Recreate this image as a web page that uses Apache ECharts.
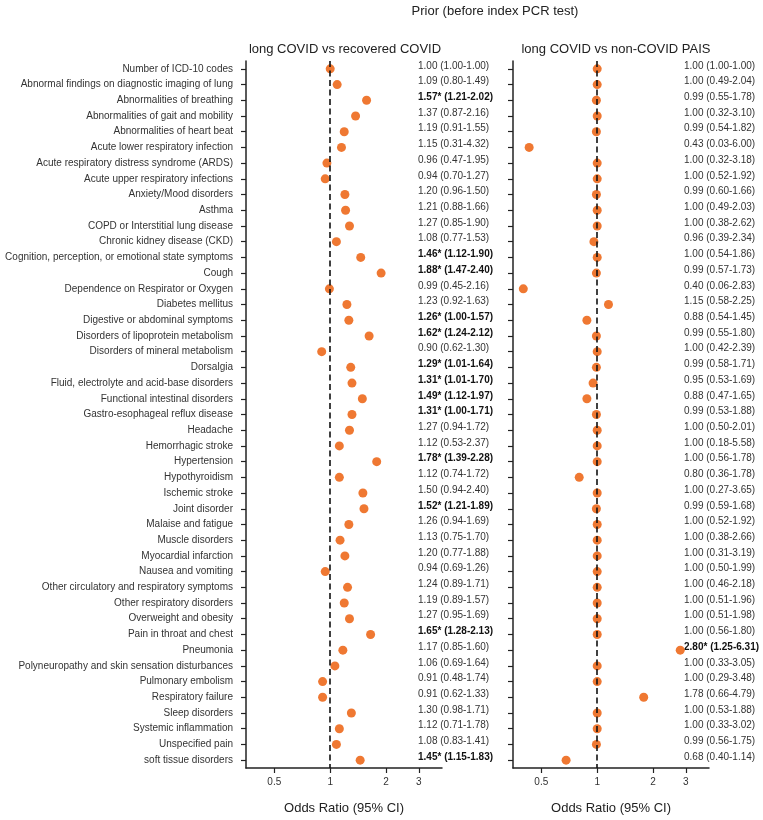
<!DOCTYPE html>
<html>
<head>
<meta charset="utf-8">
<script src="https://cdn.jsdelivr.net/npm/echarts@6/dist/echarts.min.js"></script>
<style>
  html, body { margin: 0; padding: 0; background: #fff; }
  #main { width: 763px; height: 820px; }
</style>
</head>
<body>
<div id="main"></div>
<script>
// conditions, top to bottom
var conditions = [
  'Number of ICD-10 codes',
  'Abnormal findings on diagnostic imaging of lung',
  'Abnormalities of breathing',
  'Abnormalities of gait and mobility',
  'Abnormalities of heart beat',
  'Acute lower respiratory infection',
  'Acute respiratory distress syndrome (ARDS)',
  'Acute upper respiratory infections',
  'Anxiety/Mood disorders',
  'Asthma',
  'COPD or Interstitial lung disease',
  'Chronic kidney disease (CKD)',
  'Cognition, perception, or emotional state symptoms',
  'Cough',
  'Dependence on Respirator or Oxygen',
  'Diabetes mellitus',
  'Digestive or abdominal symptoms',
  'Disorders of lipoprotein metabolism',
  'Disorders of mineral metabolism',
  'Dorsalgia',
  'Fluid, electrolyte and acid-base disorders',
  'Functional intestinal disorders',
  'Gastro-esophageal reflux disease',
  'Headache',
  'Hemorrhagic stroke',
  'Hypertension',
  'Hypothyroidism',
  'Ischemic stroke',
  'Joint disorder',
  'Malaise and fatigue',
  'Muscle disorders',
  'Myocardial infarction',
  'Nausea and vomiting',
  'Other circulatory and respiratory symptoms',
  'Other respiratory disorders',
  'Overweight and obesity',
  'Pain in throat and chest',
  'Pneumonia',
  'Polyneuropathy and skin sensation disturbances',
  'Pulmonary embolism',
  'Respiratory failure',
  'Sleep disorders',
  'Systemic inflammation',
  'Unspecified pain',
  'soft tissue disorders'
];

// long COVID vs recovered COVID
var orRecovered = [1.00, 1.09, 1.57, 1.37, 1.19, 1.15, 0.96, 0.94, 1.20, 1.21, 1.27, 1.08, 1.46, 1.88, 0.99,
  1.23, 1.26, 1.62, 0.90, 1.29, 1.31, 1.49, 1.31, 1.27, 1.12, 1.78, 1.12, 1.50, 1.52, 1.26,
  1.13, 1.20, 0.94, 1.24, 1.19, 1.27, 1.65, 1.17, 1.06, 0.91, 0.91, 1.30, 1.12, 1.08, 1.45];
var loRecovered = [1.00, 0.80, 1.21, 0.87, 0.91, 0.31, 0.47, 0.70, 0.96, 0.88, 0.85, 0.77, 1.12, 1.47, 0.45,
  0.92, 1.00, 1.24, 0.62, 1.01, 1.01, 1.12, 1.00, 0.94, 0.53, 1.39, 0.74, 0.94, 1.21, 0.94,
  0.75, 0.77, 0.69, 0.89, 0.89, 0.95, 1.28, 0.85, 0.69, 0.48, 0.62, 0.98, 0.71, 0.83, 1.15];
var hiRecovered = [1.00, 1.49, 2.02, 2.16, 1.55, 4.32, 1.95, 1.27, 1.50, 1.66, 1.90, 1.53, 1.90, 2.40, 2.16,
  1.63, 1.57, 2.12, 1.30, 1.64, 1.70, 1.97, 1.71, 1.72, 2.37, 2.28, 1.72, 2.40, 1.89, 1.69,
  1.70, 1.88, 1.26, 1.71, 1.57, 1.69, 2.13, 1.60, 1.64, 1.74, 1.33, 1.71, 1.78, 1.41, 1.83];
var sigRecovered = [0, 0, 1, 0, 0, 0, 0, 0, 0, 0, 0, 0, 1, 1, 0,
  0, 1, 1, 0, 1, 1, 1, 1, 0, 0, 1, 0, 0, 1, 0,
  0, 0, 0, 0, 0, 0, 1, 0, 0, 0, 0, 0, 0, 0, 1];

// long COVID vs non-COVID PAIS
var orPais = [1.00, 1.00, 0.99, 1.00, 0.99, 0.43, 1.00, 1.00, 0.99, 1.00, 1.00, 0.96, 1.00, 0.99, 0.40,
  1.15, 0.88, 0.99, 1.00, 0.99, 0.95, 0.88, 0.99, 1.00, 1.00, 1.00, 0.80, 1.00, 0.99, 1.00,
  1.00, 1.00, 1.00, 1.00, 1.00, 1.00, 1.00, 2.80, 1.00, 1.00, 1.78, 1.00, 1.00, 0.99, 0.68];
var loPais = [1.00, 0.49, 0.55, 0.32, 0.54, 0.03, 0.32, 0.52, 0.60, 0.49, 0.38, 0.39, 0.54, 0.57, 0.06,
  0.58, 0.54, 0.55, 0.42, 0.58, 0.53, 0.47, 0.53, 0.50, 0.18, 0.56, 0.36, 0.27, 0.59, 0.52,
  0.38, 0.31, 0.50, 0.46, 0.51, 0.51, 0.56, 1.25, 0.33, 0.29, 0.66, 0.53, 0.33, 0.56, 0.40];
var hiPais = [1.00, 2.04, 1.78, 3.10, 1.82, 6.00, 3.18, 1.92, 1.66, 2.03, 2.62, 2.34, 1.86, 1.73, 2.83,
  2.25, 1.45, 1.80, 2.39, 1.71, 1.69, 1.65, 1.88, 2.01, 5.58, 1.78, 1.78, 3.65, 1.68, 1.92,
  2.66, 3.19, 1.99, 2.18, 1.96, 1.98, 1.80, 6.31, 3.05, 3.48, 4.79, 1.88, 3.02, 1.75, 1.14];
var sigPais = [0, 0, 0, 0, 0, 0, 0, 0, 0, 0, 0, 0, 0, 0, 0,
  0, 0, 0, 0, 0, 0, 0, 0, 0, 0, 0, 0, 0, 0, 0,
  0, 0, 0, 0, 0, 0, 0, 1, 0, 0, 0, 0, 0, 0, 0];

var xTicks = [0.5, 1, 2, 3];
var xMin = 0.352, xMax = 4;

var FONT = "'Liberation Sans', Arial, sans-serif";
var INK = '#222';
var DOT = '#EF7832';

function ciText(or, lo, hi, sig, i) {
  var t = or[i].toFixed(2) + (sig[i] ? '*' : '') + ' (' + lo[i].toFixed(2) + '-' + hi[i].toFixed(2) + ')';
  return sig[i] ? '{b|' + t + '}' : '{n|' + t + '}';
}

function xAxisFor(gridIndex) {
  return {
    type: 'log', logBase: 2, gridIndex: gridIndex, min: xMin, max: xMax,
    name: 'Odds Ratio (95% CI)', nameLocation: 'middle', nameGap: 34,
    nameTextStyle: { fontFamily: FONT, fontSize: 13, color: INK },
    axisLine: { show: true, lineStyle: { color: INK, width: 1.5 } },
    axisTick: { show: true, length: 5, lineStyle: { color: INK, width: 1.2 }, customValues: xTicks },
    axisLabel: {
      customValues: xTicks, margin: 9, fontFamily: FONT, fontSize: 10, color: '#333',
      formatter: function (v) { return String(+v.toFixed(2)); }
    },
    splitLine: { show: false }, minorTick: { show: false }
  };
}

function textAxis(gridIndex, or, lo, hi, sig, margin) {
  return {
    type: 'category', gridIndex: gridIndex, data: conditions, inverse: true, position: 'right',
    axisLine: { show: false }, axisTick: { show: false },
    axisLabel: {
      margin: margin, align: 'left', interval: 0, padding: [0, 0, 6, 0],
      formatter: function (v, i) { return ciText(or, lo, hi, sig, i); },
      rich: {
        n: { fontFamily: FONT, fontSize: 10, color: '#333' },
        b: { fontFamily: FONT, fontSize: 10, color: '#111', fontWeight: 'bold' }
      }
    }
  };
}

function pts(or) {
  return or.map(function (v, i) { return [v, i]; });
}

var myChart = echarts.init(document.getElementById('main'), null, { renderer: 'canvas' });

var option = {
  backgroundColor: '#fff',
  animation: false,
  title: [
    { text: 'Prior (before index PCR test)', left: 490, top: 0, textAlign: 'center',
      textStyle: { fontFamily: FONT, fontSize: 13, fontWeight: 'normal', color: INK } },
    { text: 'long COVID vs recovered COVID', left: 340, top: 38, textAlign: 'center',
      textStyle: { fontFamily: FONT, fontSize: 13, fontWeight: 'normal', color: INK } },
    { text: 'long COVID vs non-COVID PAIS', left: 611, top: 38, textAlign: 'center',
      textStyle: { fontFamily: FONT, fontSize: 13, fontWeight: 'normal', color: INK } }
  ],
  grid: [
    { left: 246, top: 61, width: 196, height: 717 },
    { left: 513, top: 61, width: 196, height: 717 }
  ],
  xAxis: [xAxisFor(0), xAxisFor(1)],
  yAxis: [
    {
      type: 'category', gridIndex: 0, data: conditions, inverse: true,
      axisLine: { show: true, lineStyle: { color: INK, width: 1.5 } },
      axisTick: { show: true, alignWithLabel: true, length: 5, lineStyle: { color: INK, width: 1.2 } },
      axisLabel: { interval: 0, margin: 13, fontFamily: FONT, fontSize: 10, color: '#333' },
      splitLine: { show: false }
    },
    textAxis(0, orRecovered, loRecovered, hiRecovered, sigRecovered, -24),
    {
      type: 'category', gridIndex: 1, data: conditions, inverse: true,
      axisLine: { show: true, lineStyle: { color: INK, width: 1.5 } },
      axisTick: { show: true, alignWithLabel: true, length: 5, lineStyle: { color: INK, width: 1.2 } },
      axisLabel: { show: false },
      splitLine: { show: false }
    },
    textAxis(1, orPais, loPais, hiPais, sigPais, -25)
  ],
  series: [
    {
      type: 'scatter', xAxisIndex: 0, yAxisIndex: 0, data: pts(orRecovered),
      symbolSize: 9, itemStyle: { color: DOT, opacity: 1 }, z: 2
    },
    {
      type: 'scatter', xAxisIndex: 1, yAxisIndex: 2, data: pts(orPais),
      symbolSize: 9, itemStyle: { color: DOT, opacity: 1 }, z: 2
    },
    {
      type: 'scatter', xAxisIndex: 0, yAxisIndex: 0, data: [], z: 5,
      markLine: {
        silent: true, symbol: 'none', label: { show: false },
        lineStyle: { color: '#111', type: [6, 3.5], width: 1.6 },
        data: [{ xAxis: 1 }]
      }
    },
    {
      type: 'scatter', xAxisIndex: 1, yAxisIndex: 2, data: [], z: 5,
      markLine: {
        silent: true, symbol: 'none', label: { show: false },
        lineStyle: { color: '#111', type: [6, 3.5], width: 1.6 },
        data: [{ xAxis: 1 }]
      }
    }
  ]
};
myChart.setOption(option);
</script>
</body>
</html>
